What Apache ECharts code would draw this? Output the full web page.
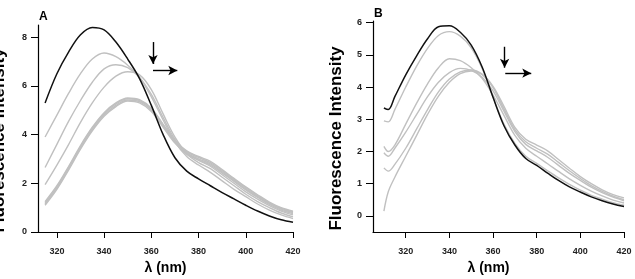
<!DOCTYPE html>
<html>
<head>
<meta charset="utf-8">
<script src="https://cdn.jsdelivr.net/npm/echarts@6/dist/echarts.min.js"></script>
<style>html,body{margin:0;padding:0;background:#fff}#main{width:635px;height:279px}</style>
</head>
<body>
<div id="main"></div>
<script>
// panel A
var wlA = [315,320,325,330,335,340,345,350,355,360,365,370,375,380,385,390,395,400,405,410,415,420];
var blackA = [5.3,6.5,7.4,8.1,8.4,8.3,7.8,7.1,6.3,5.2,4.0,3.05,2.5,2.18,1.9,1.62,1.36,1.1,0.86,0.66,0.5,0.4];
var grayA1 = [3.9,4.8,5.7,6.5,7.1,7.35,7.2,6.85,6.35,5.55,4.6,3.7,3.1,2.75,2.45,2.1,1.75,1.45,1.15,0.9,0.7,0.55];
var grayA2 = [2.65,3.6,4.55,5.4,6.15,6.7,6.87,6.75,6.35,5.65,4.7,3.8,3.2,2.85,2.6,2.25,1.9,1.55,1.25,1.0,0.78,0.62];
var grayA3 = [1.95,2.75,3.6,4.5,5.3,5.95,6.4,6.58,6.45,5.85,4.85,3.9,3.25,2.95,2.7,2.35,2.0,1.65,1.35,1.08,0.86,0.7];
var grayA4 = [1.1,1.75,2.55,3.4,4.15,4.75,5.15,5.38,5.3,4.95,4.3,3.65,3.2,2.95,2.75,2.42,2.08,1.73,1.42,1.13,0.9,0.76];
var grayA5 = [1.15,1.8,2.6,3.45,4.2,4.8,5.2,5.42,5.35,5.0,4.35,3.7,3.25,3.0,2.8,2.47,2.12,1.77,1.46,1.17,0.94,0.8];
var grayA6 = [1.2,1.85,2.66,3.5,4.26,4.86,5.26,5.47,5.4,5.05,4.4,3.74,3.3,3.06,2.85,2.52,2.17,1.82,1.5,1.2,0.97,0.83];
var grayA7 = [1.25,1.9,2.7,3.55,4.3,4.9,5.3,5.5,5.43,5.08,4.42,3.76,3.33,3.1,2.9,2.56,2.2,1.85,1.53,1.23,1.0,0.86];

// panel B
var wlB = [310,312,315,320,325,330,335,340,345,350,355,360,365,370,375,380,385,390,395,400,405,410,415,420];
var blackB = [3.35,3.3,3.7,4.38,4.97,5.5,5.87,5.9,5.7,5.3,4.62,3.68,2.8,2.2,1.78,1.57,1.33,1.1,0.9,0.74,0.59,0.47,0.37,0.29];
var grayB1 = [2.95,2.92,3.3,4.0,4.65,5.2,5.6,5.72,5.58,5.22,4.58,3.68,2.85,2.25,1.85,1.63,1.4,1.18,0.98,0.8,0.64,0.52,0.41,0.33];
var grayB2 = [2.16,2.0,2.2,2.85,3.5,4.1,4.6,4.88,4.82,4.6,4.27,3.75,3.12,2.5,2.1,1.85,1.62,1.38,1.15,0.95,0.77,0.62,0.49,0.4];
var grayB3 = [1.96,1.85,2.1,2.6,3.15,3.7,4.15,4.45,4.58,4.52,4.3,3.88,3.25,2.62,2.22,2.02,1.82,1.57,1.32,1.1,0.89,0.72,0.58,0.47];
var grayB4 = [1.49,1.39,1.6,2.1,2.7,3.3,3.85,4.25,4.47,4.53,4.4,4.02,3.4,2.75,2.38,2.2,2.02,1.75,1.48,1.22,1.0,0.81,0.66,0.56];
var grayB5 = [0.15,0.75,1.2,1.85,2.5,3.15,3.72,4.15,4.42,4.5,4.38,3.98,3.32,2.68,2.3,2.1,1.92,1.66,1.4,1.16,0.94,0.76,0.61,0.5];

var ticksX = [320,340,360,380,400,420];
var ticksYA = [0,2,4,6,8];
var ticksYB = [0,1,2,3,4,5,6];

var FONT = 'Arial, "Liberation Sans", sans-serif';

function pairs(xs, ys){
    return xs.map(function(x, i){ return [x, ys[i]]; });
}

function line(grid, xs, ys, color, width){
    return {
        type:'line',
        xAxisIndex:grid,
        yAxisIndex:grid,
        data:pairs(xs, ys),
        smooth:0.35,
        showSymbol:false,
        silent:true,
        lineStyle:{color:color, width:width}
    };
}

function arrows(list){
    return {
        silent:true,
        symbol:['none','arrow'],
        symbolSize:[7,9],
        label:{show:false},
        lineStyle:{color:'#000', width:1.4, type:'solid'},
        data:list.map(function(a){
            return [{coord:a[0]}, {coord:a[1]}];
        })
    };
}

function xAxis(grid, min){
    return {
        type:'value', gridIndex:grid, min:min, max:420,
        splitLine:{show:false},
        axisLine:{onZero:false, lineStyle:{color:'#000', width:1.2}},
        axisTick:{customValues:ticksX, length:6, lineStyle:{color:'#000', width:1}},
        axisLabel:{customValues:ticksX, fontSize:9, fontWeight:'bold', color:'#222', margin:15, fontFamily:FONT},
        name:'λ (nm)', nameLocation:'middle', nameGap:27,
        nameTextStyle:{fontSize:14, fontWeight:'bold', color:'#000', fontFamily:FONT, padding:grid ? [0,20,0,0] : 0}
    };
}

function yAxis(grid, min, max, ticks, gap){
    return {
        type:'value', gridIndex:grid, min:min, max:max,
        splitLine:{show:false},
        axisLine:{show:true, onZero:false, lineStyle:{color:'#000', width:1.2}},
        axisTick:{show:true, customValues:ticks, length:7, lineStyle:{color:'#000', width:1}},
        axisLabel:{customValues:ticks, fontSize:9, fontWeight:'bold', color:'#222', margin:11, fontFamily:FONT},
        name:'Fluorescence Intensity', nameLocation:'middle', nameGap:gap,
        nameTextStyle:{fontSize:17, fontWeight:'bold', color:'#000', fontFamily:FONT, padding:[0,24,0,0]}
    };
}

var grayC = '#c0c0c0';
var series = [];
[grayA7, grayA6, grayA5, grayA4, grayA3, grayA2, grayA1].forEach(function(s){
    series.push(line(0, wlA, s, grayC, 1.4));
});
var bA = line(0, wlA, blackA, '#111', 1.5);
bA.markLine = arrows([[[360.7,7.8],[360.7,6.9]], [[360.7,6.63],[371,6.63]]]);
series.push(bA);

[grayB5, grayB4, grayB3, grayB2, grayB1].forEach(function(s){
    series.push(line(1, wlB, s, grayC, 1.4));
});
var bB = line(1, wlB, blackB, '#111', 1.5);
bB.markLine = arrows([[[365.3,5.25],[365.3,4.6]], [[365.6,4.43],[377.5,4.43]]]);
series.push(bB);

var chart = echarts.init(document.getElementById('main'), null, {renderer:'canvas'});
chart.setOption({
    animation:false,
    backgroundColor:'#fff',
    title:[
        {text:'A', left:39, top:11, padding:0, textStyle:{fontSize:12, fontWeight:'bold', color:'#000', fontFamily:FONT}},
        {text:'B', left:374, top:8, padding:0, textStyle:{fontSize:12, fontWeight:'bold', color:'#000', fontFamily:FONT}}
    ],
    grid:[
        {left:38, top:25, width:255, height:207, outerBoundsMode:'none', containLabel:false},
        {left:373, top:21, width:251, height:211, outerBoundsMode:'none', containLabel:false}
    ],
    xAxis:[xAxis(0, 312), xAxis(1, 305)],
    yAxis:[yAxis(0, 0, 8.5, ticksYA, 30), yAxis(1, -0.5, 6.05, ticksYB, 28)],
    series:series
});
</script>
</body>
</html>
